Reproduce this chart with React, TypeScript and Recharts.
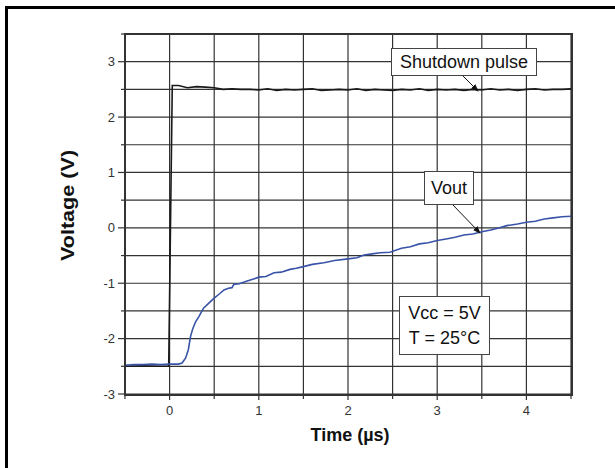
import { CartesianGrid, Line, LineChart, XAxis, YAxis } from 'recharts';

// shutdown pulse trace (µs, V)
const pulseTime = [
  -0.5, -0.3, -0.1, -0.01, 0.03, 0.1, 0.2, 0.3, 0.4, 0.5, 0.6, 0.7, 0.8, 0.9, 1.0, 1.1, 1.2, 1.3, 1.4, 1.5,
  1.6, 1.7, 1.8, 1.9, 2.0, 2.1, 2.2, 2.3, 2.4, 2.5, 2.6, 2.7, 2.8, 2.9, 3.0, 3.1, 3.2, 3.3, 3.4, 3.5, 3.6,
  3.7, 3.8, 3.9, 4.0, 4.1, 4.2, 4.3, 4.4, 4.5,
];
const pulseVolt = [
  -2.5, -2.49, -2.5, -2.5, 2.57, 2.57, 2.53, 2.55, 2.54, 2.53, 2.5, 2.51, 2.5, 2.5, 2.49, 2.51, 2.48, 2.5,
  2.49, 2.5, 2.51, 2.48, 2.49, 2.5, 2.49, 2.51, 2.48, 2.5, 2.49, 2.48, 2.5, 2.49, 2.51, 2.48, 2.5, 2.49, 2.5,
  2.48, 2.5, 2.49, 2.51, 2.49, 2.5, 2.48, 2.5, 2.51, 2.49, 2.5, 2.5, 2.51,
];

// Vout trace (µs, V)
const voutTime = [
  -0.5, -0.4, -0.3, -0.2, -0.1, 0, 0.1, 0.14, 0.18, 0.21, 0.235, 0.26, 0.29, 0.33, 0.38, 0.44, 0.5, 0.56,
  0.61, 0.66, 0.7, 0.72, 0.78, 0.87, 0.95, 1.0, 1.08, 1.17, 1.25, 1.35, 1.42, 1.5, 1.6, 1.73, 1.85, 2.0,
  2.1, 2.18, 2.27, 2.36, 2.47, 2.6, 2.7, 2.8, 2.9, 3.0, 3.1, 3.2, 3.3, 3.4, 3.5, 3.6, 3.7, 3.78, 3.9, 4.0,
  4.1, 4.2, 4.3, 4.4, 4.5,
];
const voutVolt = [
  -2.48, -2.47, -2.47, -2.46, -2.47, -2.46, -2.46, -2.44, -2.35, -2.2, -1.96, -1.82, -1.7, -1.6, -1.45,
  -1.36, -1.27, -1.19, -1.12, -1.09, -1.08, -1.02, -1.01, -0.96, -0.92, -0.89, -0.88, -0.81, -0.8, -0.75,
  -0.73, -0.7, -0.66, -0.63, -0.59, -0.56, -0.54, -0.49, -0.47, -0.45, -0.44, -0.37, -0.34, -0.29, -0.27,
  -0.23, -0.2, -0.17, -0.13, -0.11, -0.07, -0.04, 0.0, 0.04, 0.07, 0.1, 0.12, 0.16, 0.18, 0.2, 0.21,
];

const xTicks = [-0.5, 0, 0.5, 1, 1.5, 2, 2.5, 3, 3.5, 4, 4.5];
const yTicks = [-3, -2.5, -2, -1.5, -1, -0.5, 0, 0.5, 1, 1.5, 2, 2.5, 3, 3.5];

const pulseData = pulseTime.map((t, i) => ({ t, v: pulseVolt[i] }));
const voutData = voutTime.map((t, i) => ({ t, v: voutVolt[i] }));

const FONT = 'Arial, "Liberation Sans", sans-serif';

function YTick({ x, y, payload }: any) {
  const v = payload.value;
  const major = Number.isInteger(v);
  return (
    <g>
      <line x1={x - (major ? 7 : 4)} x2={x} y1={y} y2={y} stroke="#333" strokeWidth={1.2} />
      {major && v <= 3 && (
        <text x={x - 10} y={y} dy={4.5} textAnchor="end" fontSize={13} fill="#333" fontFamily={FONT}>
          {v}
        </text>
      )}
    </g>
  );
}

function XTick({ x, y, payload }: any) {
  const v = payload.value;
  const major = Number.isInteger(v);
  return (
    <g>
      <line x1={x} x2={x} y1={y} y2={y + (major ? 4 : 3)} stroke="#333" strokeWidth={1.2} />
      {major && (
        <text x={x} y={y + 19} textAnchor="middle" fontSize={13} fill="#333" fontFamily={FONT}>
          {v}
        </text>
      )}
    </g>
  );
}

const boxStyle: React.CSSProperties = {
  position: 'absolute',
  background: '#fff',
  border: '1px solid #444',
  fontFamily: FONT,
  fontSize: 18,
  color: '#111',
  boxSizing: 'border-box',
  display: 'flex',
  flexDirection: 'column',
  alignItems: 'center',
  justifyContent: 'center',
  lineHeight: '25px',
};

export default function App() {
  return (
    <div style={{ position: 'absolute', left: 0, top: 0, width: 615, height: 468, background: '#fff', overflow: 'hidden' }}>
      <div
        style={{
          position: 'absolute',
          left: 5,
          top: 6,
          width: 615,
          height: 470,
          borderTop: '3px solid #000',
          borderLeft: '3px solid #000',
        }}
      />
      <LineChart width={615} height={468} margin={{ top: 34, right: 44, bottom: 44, left: 75 }}>
        <CartesianGrid stroke="#333" strokeWidth={1.2} />
        <XAxis
          type="number"
          dataKey="t"
          domain={[-0.5, 4.5]}
          ticks={xTicks}
          axisLine={false}
          tickLine={false}
          tickSize={0}
          height={30}
          tick={<XTick />}
          allowDataOverflow
        />
        <YAxis
          type="number"
          dataKey="v"
          domain={[-3, 3.5]}
          ticks={yTicks}
          axisLine={false}
          tickLine={false}
          tickSize={0}
          tickMargin={0}
          width={50}
          tick={<YTick />}
          allowDataOverflow
        />
        <Line
          data={pulseData}
          dataKey="v"
          stroke="#1a1a1a"
          strokeWidth={1.6}
          dot={false}
          isAnimationActive={false}
          type="linear"
        />
        <Line
          data={voutData}
          dataKey="v"
          stroke="#3953a8"
          strokeWidth={1.6}
          dot={false}
          isAnimationActive={false}
          type="linear"
        />
      </LineChart>
      {/* plot frame */}
      <div
        style={{
          position: 'absolute',
          left: 124,
          top: 33,
          width: 449,
          height: 363,
          border: '2px solid #333',
          boxSizing: 'border-box',
          pointerEvents: 'none',
        }}
      />
      {/* axis titles */}
      <div
        style={{
          position: 'absolute',
          left: 250,
          width: 200,
          top: 425,
          textAlign: 'center',
          fontFamily: FONT,
          fontWeight: 'bold',
          fontSize: 18,
          color: '#111',
        }}
      >
        Time (µs)
      </div>
      <div
        style={{
          position: 'absolute',
          left: 68 - 100,
          width: 200,
          top: 206 - 11,
          textAlign: 'center',
          fontFamily: FONT,
          fontWeight: 'bold',
          fontSize: 18,
          color: '#111',
          transform: 'rotate(-90deg) scaleX(1.2)',
        }}
      >
        Voltage (V)
      </div>
      {/* annotations */}
      <svg width={615} height={468} style={{ position: 'absolute', left: 0, top: 0, pointerEvents: 'none' }}>
        <defs>
          <marker id="ah" markerWidth="8" markerHeight="8" refX="7" refY="4" orient="auto" markerUnits="userSpaceOnUse">
            <path d="M0,1 L8,4 L0,7 Z" fill="#111" />
          </marker>
        </defs>
        <line x1={462} y1={75} x2={478} y2={91} stroke="#111" strokeWidth={1} markerEnd="url(#ah)" />
        <line x1={452} y1={204} x2={480} y2={233} stroke="#111" strokeWidth={1} markerEnd="url(#ah)" />
      </svg>
      <div style={{ ...boxStyle, left: 391, top: 48, width: 146, height: 28 }}>Shutdown pulse</div>
      <div style={{ ...boxStyle, left: 424, top: 171, width: 50, height: 34 }}>Vout</div>
      <div style={{ ...boxStyle, left: 399, top: 296, width: 91, height: 59 }}>
        <div>Vcc = 5V</div>
        <div>T = 25°C</div>
      </div>
    </div>
  );
}
